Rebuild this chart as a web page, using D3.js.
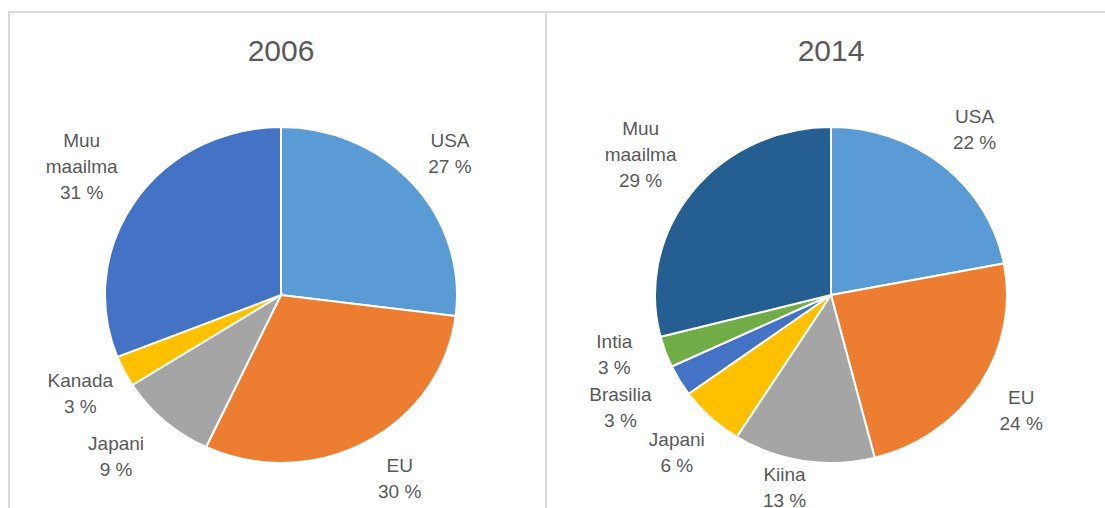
<!DOCTYPE html>
<html>
<head>
<meta charset="utf-8">
<script src="https://cdn.jsdelivr.net/npm/d3@7"></script>
<style>
  body { margin: 0; background: #fff; }
  svg text { font-family: "Liberation Sans", Arial, sans-serif; fill: #595959; }
</style>
</head>
<body>
<div id="chart"></div>
<script>
// Data
const years = ["2006", "2014"];
const names2006 = ["USA", "EU", "Japani", "Kanada", "Muu maailma"];
const values2006 = [27, 30, 9, 3, 31];
const names2014 = ["USA", "EU", "Kiina", "Japani", "Brasilia", "Intia", "Muu maailma"];
const values2014 = [22, 24, 13, 6, 3, 3, 29];

// Styles / layout
const width = 1105, height = 508;
const colors2006 = ["#5B9BD5", "#ED7D31", "#A5A5A5", "#FFC000", "#4472C4"];
const colors2014 = ["#5B9BD5", "#ED7D31", "#A5A5A5", "#FFC000", "#4472C4", "#70AD47", "#255E91"];
// small manual nudges of label angle (deg) / radius, like Excel's best fit
const nudge2006 = { "EU": [-3, 0], "Japani": [3, 10] };
const nudge2014 = { "Kiina": [4, -18], "Brasilia": [1.5, 15], "Intia": [4, 0] };

const charts = [
  { year: years[0], names: names2006, values: values2006, colors: colors2006, nudge: nudge2006 },
  { year: years[1], names: names2014, values: values2014, colors: colors2014, nudge: nudge2014 },
];

const radius = 168;
const stretchX = 176 / 168; // the picture is a bit wider than tall
const centers = [281, 831];
const cy = 295;

const svg = d3
  .select("#chart")
  .append("svg")
  .attr("width", width)
  .attr("height", height);

// panel borders
svg.append("rect")
  .attr("x", 9).attr("y", 12)
  .attr("width", 537).attr("height", 520)
  .attr("fill", "none").attr("stroke", "#d9d9d9").attr("stroke-width", 2);
svg.append("rect")
  .attr("x", 546).attr("y", 12)
  .attr("width", 600).attr("height", 520)
  .attr("fill", "none").attr("stroke", "#d9d9d9").attr("stroke-width", 2);

const pie = d3.pie().sort(null).value((d) => d.value);
const arc = d3.arc().innerRadius(0).outerRadius(radius);

charts.forEach((c, ci) => {
  const data = c.names.map((n, i) => ({ name: n, value: c.values[i], color: c.colors[i] }));
  const cx = centers[ci];

  // title
  svg.append("text")
    .attr("x", cx)
    .attr("y", 61)
    .attr("text-anchor", "middle")
    .style("font-size", "30px")
    .text(c.year);

  const g = svg.append("g")
    .attr("transform", `translate(${cx}, ${cy}) scale(${stretchX}, 1)`);

  g.selectAll("path")
    .data(pie(data))
    .enter()
    .append("path")
    .attr("d", arc)
    .attr("fill", (d) => d.data.color)
    .attr("stroke", "#fff")
    .attr("stroke-width", 2)
    .attr("vector-effect", "non-scaling-stroke");

  // labels
  pie(data).forEach((d) => {
    const lines = d.data.name.split(" ").concat([d.data.value + " %"]);
    const n = c.nudge[d.data.name] || [0, 0];
    let ang = (d.startAngle + d.endAngle) / 2 + (n[0] * Math.PI) / 180;
    let R = 215 + (lines.length > 2 ? 15 : 0) + n[1];
    const lx = cx + Math.sin(ang) * R * stretchX;
    const ly = cy - Math.cos(ang) * R;
    const lineH = 26;
    const t = svg.append("text")
      .attr("text-anchor", "middle")
      .style("font-size", "19px");
    lines.forEach((ln, i) => {
      t.append("tspan")
        .attr("x", lx)
        .attr("y", ly + (i - (lines.length - 1) / 2) * lineH + 7)
        .text(ln);
    });
  });
});
</script>
</body>
</html>
